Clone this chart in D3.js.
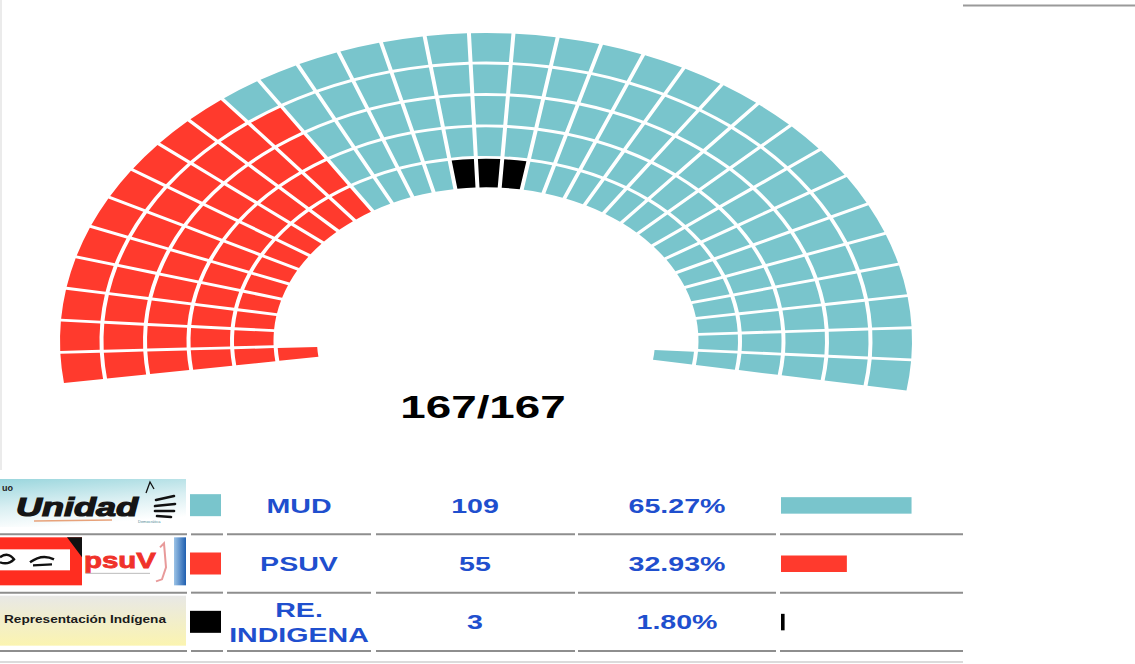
<!DOCTYPE html>
<html>
<head>
<meta charset="utf-8">
<script src="https://cdnjs.cloudflare.com/ajax/libs/d3/7.8.5/d3.min.js"></script>
<style>
  body { margin: 0; background: #fff; }
  svg { display: block; font-family: 'Liberation Sans', Arial, sans-serif; }
</style>
</head>
<body>
<div id="chart"></div>
<script>
// parties, in table order
const parties = ['MUD', 'PSUV', 'RE. INDIGENA'];
const seats = [109, 55, 3];
const percents = [65.27, 32.93, 1.80];
const colors = ['#79c5cc', '#ff3a2d', '#000000'];

// hemicycle: 5 full rows of 33 columns, plus a short inner row with only the two end seats
const columns = 33;
const fullRows = 5;
const innerRowCols = [0, 32];
// psuv seats counted from the left end of each row (outer row first)
const psuvPerRow = [10, 11, 11, 11, 11, 1];
// the indigena seats sit in the innermost full row, middle columns
const indigenaRow = 4;
const indigenaCols = [15, 16, 17];

const svgWidth = 1135;
const svgHeight = 664;

const svg = d3.select('#chart')
    .append('svg')
    .attr('width', svgWidth)
    .attr('height', svgHeight);

//hemicycle geometry (the picture is stretched sideways, so the circle becomes an ellipse)
const center = { x: 486, y: 341 };
const squash = 0.723;
const outerRadius = 426;
const rowPitch = 43.5;
const gap = 4;

const angle = d3.scaleLinear()
    .domain([0, columns])
    .range([-98.1, 99.5].map(d => d * Math.PI / 180));

const radius = d3.scaleLinear()
    .domain([0, fullRows + 1])
    .range([outerRadius, outerRadius - rowPitch * (fullRows + 1)]);

const partyOf = (row, col) => {
    if (col < psuvPerRow[row]) return 1;
    if (row === indigenaRow && indigenaCols.includes(col)) return 2;
    return 0;
};

//every seat as {row, col, party}
const seatList = [];
d3.range(fullRows + 1).forEach(row => {
    const cols = row < fullRows ? d3.range(columns) : innerRowCols;
    cols.forEach(col => seatList.push({ row, col, party: partyOf(row, col) }));
});

const arc = d3.arc()
    .innerRadius(d => radius(d.row + 1) + gap)
    .outerRadius(d => radius(d.row))
    .startAngle(d => angle(d.col))
    .endAngle(d => angle(d.col + 1))
    .padRadius(100)
    .padAngle(gap / 100);

svg.append('g')
    .attr('class', 'hemicycle')
    .attr('transform', `translate(${center.x}, ${center.y}) scale(1, ${squash})`)
    .selectAll('path')
    .data(seatList).enter()
    .append('path')
    .attr('d', arc)
    .style('fill', d => colors[d.party]);

//border lines of the page
svg.append('line')
    .attr('x1', 1).attr('x2', 1).attr('y1', 0).attr('y2', 470)
    .style('stroke', '#e4e4e4').style('stroke-width', 1.5);
svg.append('line')
    .attr('x1', 963).attr('x2', 1135).attr('y1', 5.5).attr('y2', 5.5)
    .style('stroke', '#9a9a9a').style('stroke-width', 2);

//seats counted / total
const total = d3.sum(seats);
const stretch = 1.43;

svg.append('text')
    .attr('transform', `translate(483, 418) scale(${stretch}, 1)`)
    .style('text-anchor', 'middle')
    .style('font-size', '32px')
    .style('font-weight', 'bold')
    .style('fill', '#000')
    .text(`${total}/${total}`);

//results table
const y = d3.scaleBand()
    .domain(parties)
    .range([476, 651]);

const bar = d3.scaleLinear()
    .domain([0, 100])
    .range([0, 200]);

const cells = [[0, 187], [191, 223], [227, 371], [376, 575], [578, 776], [780, 963]];
const textBlue = '#1f4fce';

const defs = svg.append('defs');

const grad = (id, x2, y2, stops) => {
    const g = defs.append('linearGradient').attr('id', id)
        .attr('x1', 0).attr('y1', 0).attr('x2', x2).attr('y2', y2);
    stops.forEach(s => g.append('stop').attr('offset', s[0]).attr('stop-color', s[1]));
};
grad('unidadBg', 0.3, 1, [[0, '#9ad6dd'], [0.55, '#d9eff2'], [1, '#ffffff']]);
grad('indigenaBg', 0, 1, [[0, '#e8e8e6'], [1, '#fbf4b0']]);
grad('psuvBlue', 1, 0, [[0, '#9cc3e6'], [1, '#1f5fb0']]);

const rows = svg.selectAll('.result')
    .data(parties).enter()
    .append('g')
    .attr('class', 'result')
    .attr('transform', d => `translate(0, ${y(d)})`);

const h = y.bandwidth();

//divider lines under each row
cells.forEach(c => {
    rows.append('line')
        .attr('x1', c[0]).attr('x2', c[1])
        .attr('y1', h).attr('y2', h)
        .style('stroke', '#8e8e8e').style('stroke-width', 2);
});

//colour swatch
rows.append('rect')
    .attr('x', 190).attr('y', h / 2 - 11)
    .attr('width', 31).attr('height', 22)
    .style('fill', (d, i) => colors[i]);

//party name
rows.each(function (d, i) {
    const words = d.split(' ');
    const g = d3.select(this);
    words.forEach((w, k) => {
        g.append('text')
            .attr('transform', `translate(299, ${h / 2 + 7.5 + (k - (words.length - 1) / 2) * 25}) scale(${stretch}, 1)`)
            .style('text-anchor', 'middle')
            .style('font-size', '20px')
            .style('font-weight', 'bold')
            .style('fill', textBlue)
            .text(w);
    });
});

//seats
rows.append('text')
    .attr('transform', `translate(475, ${h / 2 + 7.5}) scale(${stretch}, 1)`)
    .style('text-anchor', 'middle')
    .style('font-size', '20px')
    .style('font-weight', 'bold')
    .style('fill', textBlue)
    .text((d, i) => seats[i]);

//percentage
rows.append('text')
    .attr('transform', `translate(677, ${h / 2 + 7.5}) scale(${stretch}, 1)`)
    .style('text-anchor', 'middle')
    .style('font-size', '20px')
    .style('font-weight', 'bold')
    .style('fill', textBlue)
    .text((d, i) => percents[i].toFixed(2) + '%');

//percentage bar
rows.append('rect')
    .attr('x', 781).attr('y', h / 2 - 8)
    .attr('width', (d, i) => bar(percents[i]))
    .attr('height', 16.5)
    .style('fill', (d, i) => colors[i]);

//logos, drawn roughly
const logo = rows.append('g').attr('transform', 'translate(0, 3)');

//unidad logo
const unidad = logo.filter((d, i) => i === 0);
unidad.append('rect').attr('width', 186).attr('height', 48).style('fill', 'url(#unidadBg)');
unidad.append('text')
    .attr('x', 2).attr('y', 12)
    .style('font-size', '9px').style('font-weight', 'bold').style('fill', '#222')
    .text('uo');
unidad.append('text')
    .attr('x', 16).attr('y', 37)
    .attr('textLength', 122).attr('lengthAdjust', 'spacingAndGlyphs')
    .style('font-size', '25px').style('font-weight', 'bold').style('font-style', 'italic')
    .style('fill', '#151515').style('stroke', '#151515').style('stroke-width', 1.2)
    .text('Unidad');
unidad.append('line')
    .attr('x1', 34).attr('x2', 112).attr('y1', 42).attr('y2', 41)
    .style('stroke', '#e7a27a').style('stroke-width', 1.5);
unidad.append('text')
    .attr('x', 138).attr('y', 44)
    .style('font-size', '4px').style('fill', '#4a8a96')
    .text('Democrática');
[[156, 21, 174, 17], [155, 27, 175, 25], [155, 32, 174, 32], [157, 37, 171, 38]].forEach(l => {
    unidad.append('line')
        .attr('x1', l[0]).attr('y1', l[1]).attr('x2', l[2]).attr('y2', l[3])
        .style('stroke', '#111').style('stroke-width', 2.6).style('stroke-linecap', 'round');
});
unidad.append('path')
    .attr('d', 'M146,14 L150,3 L154,10')
    .style('fill', 'none').style('stroke', '#111').style('stroke-width', 1.3);

//psuv logo
const psuv = logo.filter((d, i) => i === 1);
psuv.append('rect').attr('width', 186).attr('height', 48).style('fill', '#fff');
psuv.append('rect').attr('width', 82).attr('height', 48).style('fill', '#ff2d20');
psuv.append('rect').attr('y', 12).attr('width', 70).attr('height', 21).style('fill', '#fff');
psuv.append('path').attr('d', 'M67,0 L82,0 L82,20 Z').style('fill', '#111');
psuv.append('path')
    .attr('d', 'M0,20 Q8,14 14,22 Q8,28 0,25 M30,25 Q42,16 54,22 M33,28 L52,27')
    .style('fill', 'none').style('stroke', '#111').style('stroke-width', 2.4);
psuv.append('text')
    .attr('x', 84).attr('y', 31)
    .attr('textLength', 72).attr('lengthAdjust', 'spacingAndGlyphs')
    .style('font-size', '22px').style('font-weight', 'bold')
    .style('fill', '#f0322a').style('stroke', '#f0322a').style('stroke-width', 0.8)
    .text('psuV');
psuv.append('line')
    .attr('x1', 86).attr('x2', 150).attr('y1', 36).attr('y2', 36)
    .style('stroke', '#bbb').style('stroke-width', 1);
psuv.append('path')
    .attr('d', 'M160,10 L164,6 L166,30 L162,42 L156,44')
    .style('fill', 'none').style('stroke', '#e89a9a').style('stroke-width', 2);
psuv.append('rect').attr('x', 174).attr('width', 12).attr('height', 48).style('fill', 'url(#psuvBlue)');

//indigena logo
const indigena = logo.filter((d, i) => i === 2);
indigena.append('rect').attr('width', 186).attr('height', 50).style('fill', 'url(#indigenaBg)');
indigena.append('text')
    .attr('x', 4).attr('y', 27)
    .attr('textLength', 162).attr('lengthAdjust', 'spacingAndGlyphs')
    .style('font-size', '10.5px').style('font-weight', 'bold')
    .style('fill', '#1a1a1a')
    .text('Representación Indígena');

//light bottom line
svg.append('line')
    .attr('x1', 0).attr('x2', 963).attr('y1', 662).attr('y2', 662)
    .style('stroke', '#cfcfcf').style('stroke-width', 1.5);
</script>
</body>
</html>
